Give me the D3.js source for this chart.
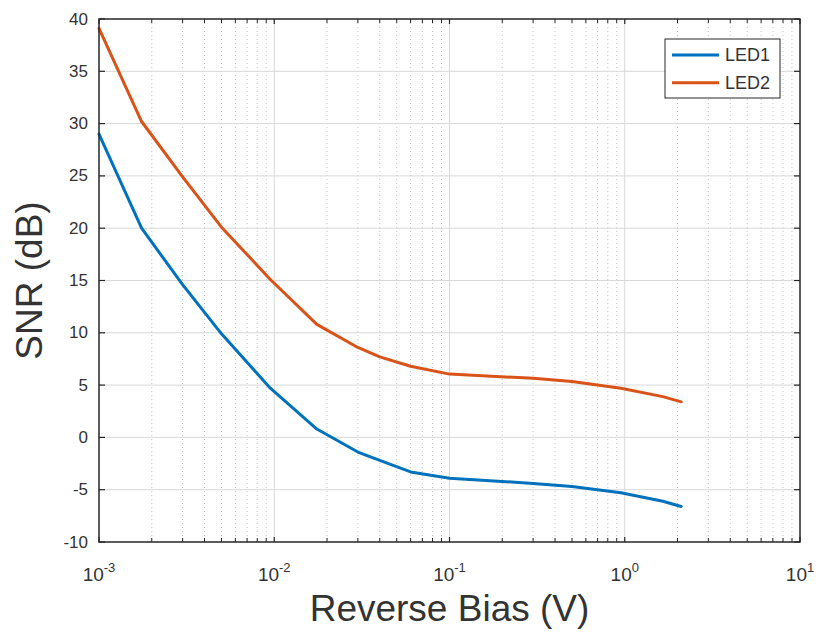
<!DOCTYPE html>
<html>
<head>
<meta charset="utf-8">
<script src="https://cdn.jsdelivr.net/npm/d3@7/dist/d3.min.js"></script>
<style>
  html, body { margin: 0; padding: 0; background: #ffffff; }
  svg { display: block; }
  text { font-family: "Liberation Sans", Arial, Helvetica, sans-serif; fill: #333333; }
</style>
</head>
<body>
<svg id="chart" width="822" height="639"></svg>
<script>
// ---- data ----
const biasV = [0.001, 0.00175, 0.003, 0.005, 0.0095, 0.0175, 0.03, 0.04, 0.06, 0.1, 0.3, 0.5, 0.95, 1.65, 2.1];
const led1 = [29.0, 20.0, 14.6, 9.9, 4.7, 0.8, -1.4, -2.2, -3.3, -3.9, -4.4, -4.7, -5.3, -6.1, -6.6];
const led2 = [39.1, 30.2, 24.9, 20.1, 15.1, 10.8, 8.6, 7.7, 6.8, 6.05, 5.65, 5.35, 4.7, 3.9, 3.4];
const seriesNames = ["LED1", "LED2"];
const xMajorTicks = [1e-3, 1e-2, 1e-1, 1e0, 1e1];
const xTickExponents = ["-3", "-2", "-1", "0", "1"];
const yTicks = [-10, -5, 0, 5, 10, 15, 20, 25, 30, 35, 40];
const xLabel = "Reverse Bias (V)";
const yLabel = "SNR (dB)";

// ---- layout ----
const svg = d3.select("#chart");
const L = 99, R = 800, T = 19, B = 542;
const x = d3.scaleLog().domain([1e-3, 1e1]).range([L, R]);
const y = d3.scaleLinear().domain([-10, 40]).range([B, T]);
const colors = ["#0072BD", "#D95319"];

// minor ticks
const minorTicks = [];
for (let e = -3; e < 1; e++) {
  for (let m = 2; m <= 9; m++) minorTicks.push(m * Math.pow(10, e));
}

const g = svg.append("g");

// minor grid (dotted)
g.selectAll("line.minor").data(minorTicks).join("line")
  .attr("x1", d => x(d)).attr("x2", d => x(d))
  .attr("y1", T).attr("y2", B)
  .attr("stroke", "#c4c4c4").attr("stroke-width", 1)
  .attr("stroke-dasharray", "1,3");

// major grid
g.selectAll("line.xmaj").data(xMajorTicks.slice(1, -1)).join("line")
  .attr("x1", d => x(d)).attr("x2", d => x(d))
  .attr("y1", T).attr("y2", B)
  .attr("stroke", "#d8d8d8").attr("stroke-width", 1);
g.selectAll("line.ymaj").data(yTicks.slice(1, -1)).join("line")
  .attr("x1", L).attr("x2", R)
  .attr("y1", d => y(d)).attr("y2", d => y(d))
  .attr("stroke", "#d8d8d8").attr("stroke-width", 1);

// lines
const seriesData = [led1, led2];
const line = d3.line().x(d => x(d[0])).y(d => y(d[1]));
seriesData.forEach((vals, i) => {
  g.append("path")
    .datum(biasV.map((v, j) => [v, vals[j]]))
    .attr("d", line)
    .attr("fill", "none")
    .attr("stroke", colors[i])
    .attr("stroke-width", 3)
    .attr("stroke-linejoin", "round")
    .attr("stroke-linecap", "round");
});

// axes with inward ticks, box
const axisColor = "#262626";
const tickLen = 5, minorLen = 4;
[B, T].forEach(yy => {
  const dir = yy === B ? -1 : 1;
  g.selectAll(null).data(xMajorTicks).join("line")
    .attr("x1", d => x(d)).attr("x2", d => x(d))
    .attr("y1", yy).attr("y2", yy + dir * tickLen)
    .attr("stroke", axisColor).attr("stroke-width", 1.2);
  g.selectAll(null).data(minorTicks).join("line")
    .attr("x1", d => x(d)).attr("x2", d => x(d))
    .attr("y1", yy).attr("y2", yy + dir * minorLen)
    .attr("stroke", axisColor).attr("stroke-width", 1);
});
[L, R].forEach(xx => {
  const dir = xx === L ? 1 : -1;
  g.selectAll(null).data(yTicks).join("line")
    .attr("x1", xx).attr("x2", xx + dir * 6)
    .attr("y1", d => y(d)).attr("y2", d => y(d))
    .attr("stroke", axisColor).attr("stroke-width", 1.2);
});
g.append("rect")
  .attr("x", L).attr("y", T).attr("width", R - L).attr("height", B - T)
  .attr("fill", "none").attr("stroke", axisColor).attr("stroke-width", 1.5);

// y tick labels
g.selectAll("text.ytl").data(yTicks).join("text")
  .attr("x", 88).attr("y", d => y(d))
  .attr("text-anchor", "end").attr("dominant-baseline", "central")
  .attr("font-size", 17)
  .text(d => d);

// x tick labels with superscripts
xMajorTicks.forEach((d, i) => {
  const t = g.append("text")
    .attr("x", x(d)).attr("y", 581)
    .attr("text-anchor", "middle")
    .attr("font-size", 19);
  t.append("tspan").text("10");
  t.append("tspan").attr("font-size", 13).attr("dy", -9).text(xTickExponents[i]);
});

// axis labels
svg.append("text")
  .attr("x", (L + R) / 2).attr("y", 621)
  .attr("text-anchor", "middle")
  .attr("font-size", 37)
  .text(xLabel);
svg.append("text")
  .attr("transform", `translate(42, ${(T + B) / 2}) rotate(-90)`)
  .attr("text-anchor", "middle")
  .attr("font-size", 37)
  .text(yLabel);

// legend
const lg = svg.append("g");
lg.append("rect")
  .attr("x", 665).attr("y", 39).attr("width", 115).attr("height", 59)
  .attr("fill", "#ffffff").attr("stroke", axisColor).attr("stroke-width", 1);
seriesNames.forEach((name, i) => {
  const yy = 55 + i * 27.7;
  lg.append("line")
    .attr("x1", 672).attr("x2", 719).attr("y1", yy).attr("y2", yy)
    .attr("stroke", colors[i]).attr("stroke-width", 3);
  lg.append("text")
    .attr("x", 725).attr("y", yy)
    .attr("dominant-baseline", "central")
    .attr("font-size", 18)
    .text(name);
});
</script>
</body>
</html>
